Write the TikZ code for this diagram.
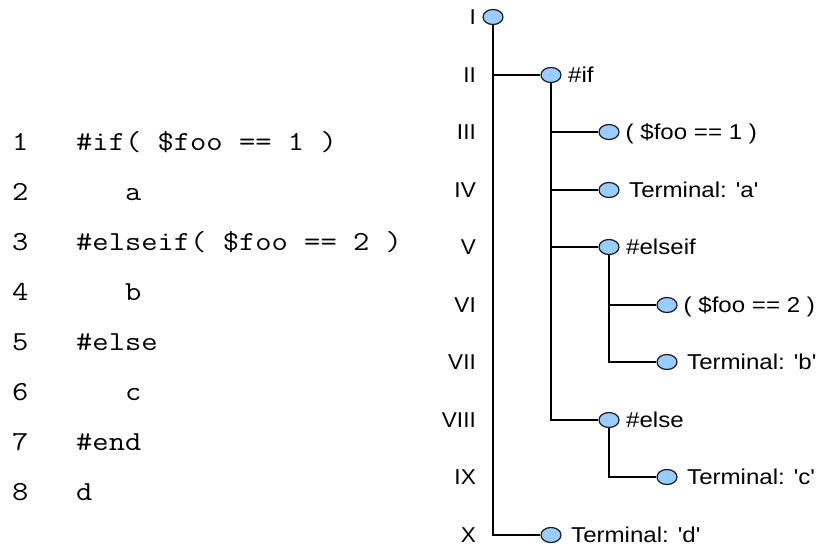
\documentclass[tikz,border=0pt]{standalone}
\usepackage{graphicx}
\usepackage{fontspec}
\setmainfont{Liberation Sans}
\usetikzlibrary{shapes.geometric}
\definecolor{nodeblue}{RGB}{153,204,255}
\definecolor{nodeline}{RGB}{25,25,25}
\newcommand{\codeline}[1]{\scalebox{1.15}[1]{#1}}
\newcommand{\labeltext}[1]{\scalebox{1.12}[1]{#1}}
\newcommand{\rowtext}[1]{\scalebox{1.05}[1]{#1}}
\newcommand{\sq}{\textquotesingle}

\begin{document}
\begin{tikzpicture}[x=1pt, y=-1pt,
  treenode/.style={ellipse, draw=nodeline, fill=nodeblue, line width=1.2pt,
                   minimum width=20pt, minimum height=15pt, inner sep=0pt},
  branch/.style={line width=1.8pt, black},
  lbl/.style={font=\fontsize{21.5}{26}\selectfont, inner sep=0pt, anchor=base west},
  rownum/.style={font=\fontsize{21.5}{26}\selectfont, inner sep=0pt, anchor=base east},
  code/.style={font=\fontsize{27.5}{30}\selectfont\ttfamily\addfontfeatures{FakeBold=0.5},
               inner sep=0pt, anchor=base west}]
\useasboundingbox (0,0) rectangle (818,549);

% source listing with line numbers
\node[code] (l1) at (12,150) {\codeline{1}};
\node[code] (l2) at (12,200) {\codeline{2}};
\node[code] (l3) at (12,250) {\codeline{3}};
\node[code] (l4) at (12,300) {\codeline{4}};
\node[code] (l5) at (12,350) {\codeline{5}};
\node[code] (l6) at (12,400) {\codeline{6}};
\node[code] (l7) at (12,450) {\codeline{7}};
\node[code] (l8) at (12,500) {\codeline{8}};

\node[code] (c1) at (76,150) {\codeline{\#if( \$foo == 1 )}};
\node[code] (c2) at (76,200) {\codeline{\hphantom{\#if}a}};
\node[code] (c3) at (76,250) {\codeline{\#elseif( \$foo == 2 )}};
\node[code] (c4) at (76,300) {\codeline{\hphantom{\#if}b}};
\node[code] (c5) at (76,350) {\codeline{\#else}};
\node[code] (c6) at (76,400) {\codeline{\hphantom{\#if}c}};
\node[code] (c7) at (76,450) {\codeline{\#end}};
\node[code] (c8) at (76,500) {\codeline{d}};

% row numbers of the tree
\node[rownum] (r1)  at (476, 24.5) {\rowtext{I}};
\node[rownum] (r2)  at (476, 82.5) {\rowtext{II}};
\node[rownum] (r3)  at (476,139.5) {\rowtext{III}};
\node[rownum] (r4)  at (476,197.5) {\rowtext{IV}};
\node[rownum] (r5)  at (476,254.5) {\rowtext{V}};
\node[rownum] (r6)  at (476,312.5) {\rowtext{VI}};
\node[rownum] (r7)  at (476,369.5) {\rowtext{VII}};
\node[rownum] (r8)  at (476,427.5) {\rowtext{VIII}};
\node[rownum] (r9)  at (476,484.5) {\rowtext{IX}};
\node[rownum] (r10) at (476,542.5) {\rowtext{X}};

% tree nodes
\node[treenode] (root)  at (493, 17) {};
\node[treenode] (nif)   at (551, 75) {};
\node[treenode] (cond1) at (609,132) {};
\node[treenode] (ta)    at (609,190) {};
\node[treenode] (nelif) at (609,247) {};
\node[treenode] (cond2) at (667,305) {};
\node[treenode] (tb)    at (667,362) {};
\node[treenode] (nelse) at (609,420) {};
\node[treenode] (tc)    at (667,477) {};
\node[treenode] (td)    at (551,535) {};

% node labels
\node[lbl] (lnif)   at ([xshift=17pt,yshift=-7.5pt]nif.center)     {\labeltext{\#if}};
\node[lbl] (lcond1) at ([xshift=16.5pt,yshift=-7.5pt]cond1.center) {\labeltext{( \$foo == 1 )}};
\node[lbl] (lta)    at ([xshift=20pt,yshift=-7.5pt]ta.center)      {\labeltext{Terminal: \sq a\sq}};
\node[lbl] (lnelif) at ([xshift=17pt,yshift=-7.5pt]nelif.center)   {\labeltext{\#elseif}};
\node[lbl] (lcond2) at ([xshift=16.5pt,yshift=-7.5pt]cond2.center) {\labeltext{( \$foo == 2 )}};
\node[lbl] (ltb)    at ([xshift=20pt,yshift=-7.5pt]tb.center)      {\labeltext{Terminal: \sq b\sq}};
\node[lbl] (lnelse) at ([xshift=17pt,yshift=-7.5pt]nelse.center)   {\labeltext{\#else}};
\node[lbl] (ltc)    at ([xshift=20pt,yshift=-7.5pt]tc.center)      {\labeltext{Terminal: \sq c\sq}};
\node[lbl] (ltd)    at ([xshift=20pt,yshift=-7.5pt]td.center)      {\labeltext{Terminal: \sq d\sq}};

% branches
\draw[branch] (root.south)  |- (nif.west);
\draw[branch] (root.south)  |- (td.west);
\draw[branch] (nif.south)   |- (cond1.west);
\draw[branch] (nif.south)   |- (ta.west);
\draw[branch] (nif.south)   |- (nelif.west);
\draw[branch] (nif.south)   |- (nelse.west);
\draw[branch] (nelif.south) |- (cond2.west);
\draw[branch] (nelif.south) |- (tb.west);
\draw[branch] (nelse.south) |- (tc.west);
\end{tikzpicture}
\end{document}
